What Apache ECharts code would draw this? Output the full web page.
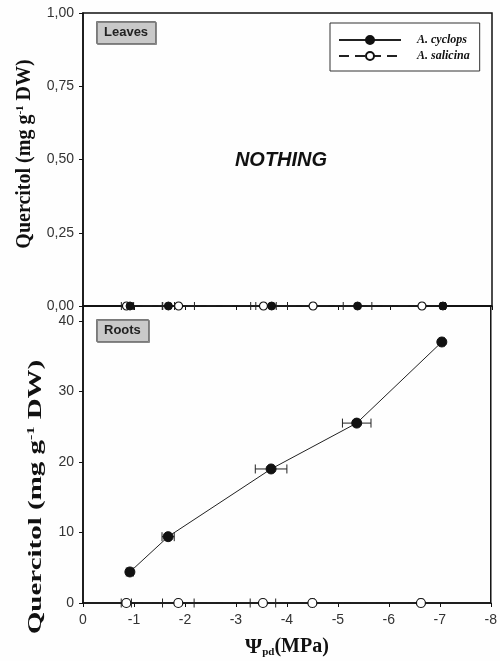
<!DOCTYPE html>
<html>
<head>
<meta charset="utf-8">
<script src="https://cdn.jsdelivr.net/npm/echarts@6/dist/echarts.min.js"></script>
<style>
  html, body { margin: 0; padding: 0; background: #fefefe; }
  #chart { width: 500px; height: 661px; }
</style>
</head>
<body>
<div id="chart"></div>
<script>
// Pre-dawn water potential (MPa) per sampling, with horizontal SE
const psiCyclops = [-0.92, -1.67, -3.69, -5.37, -7.04];
const psiCyclopsErr = [0.07, 0.12, 0.31, 0.28, 0.05];
const psiSalicina = [-0.85, -1.87, -3.53, -4.50, -6.63];
const psiSalicinaErr = [0.10, 0.31, 0.25, 0.04, 0.04];

// Quercitol content (mg g-1 DW)
const leavesCyclops = [0, 0, 0, 0, 0];
const leavesSalicina = [0, 0, 0, 0, 0];
const rootsCyclops = [4.4, 9.4, 19.0, 25.5, 37.0];
const rootsSalicina = [0, 0, 0, 0, 0];

// Axis ticks
const psiTicks = [0, -1, -2, -3, -4, -5, -6, -7, -8];
const leafTicks = [0, 0.25, 0.5, 0.75, 1];
const rootTicks = [0, 10, 20, 30, 40];

const seriesNames = ['A. cyclops', 'A. salicina'];

const INK = '#111';
const LABEL = '#333';
const SANS = '"Liberation Sans", Arial, sans-serif';
const SERIF = '"Liberation Serif", "Times New Roman", serif';

const pairs = (xs, ys) => xs.map((x, i) => [x, ys[i]]);
const withErr = (xs, ys, es) => xs.map((x, i) => [x, ys[i], es[i]]);

// Horizontal error bar with short vertical caps
function errorBar(capHalf) {
  return function (params, api) {
    const x = api.value(0), y = api.value(1), e = api.value(2);
    const a = api.coord([x - e, y]);
    const b = api.coord([x + e, y]);
    const st = { stroke: '#222', lineWidth: 1 };
    return {
      type: 'group',
      children: [
        { type: 'line', shape: { x1: a[0], y1: a[1], x2: b[0], y2: b[1] }, style: st },
        { type: 'line', shape: { x1: a[0], y1: a[1] - capHalf, x2: a[0], y2: a[1] + capHalf }, style: st },
        { type: 'line', shape: { x1: b[0], y1: b[1] - capHalf, x2: b[0], y2: b[1] + capHalf }, style: st }
      ]
    };
  };
}

function xAxisBase(gridIndex, showLabels) {
  return {
    type: 'value', gridIndex, inverse: true,
    min: psiTicks[psiTicks.length - 1], max: psiTicks[0], interval: 1,
    axisLine: { onZero: false, lineStyle: { color: INK, width: 1.5 } },
    axisTick: { show: true, inside: false, length: 4, lineStyle: { color: INK, width: 1 } },
    axisLabel: { show: showLabels, fontSize: 14, color: LABEL, fontFamily: SANS, margin: 10 },
    splitLine: { show: false }
  };
}

function lineSeries(name, xi, data, filled, size, dashed) {
  return {
    name, type: 'line', xAxisIndex: xi, yAxisIndex: xi, data,
    symbol: 'circle', symbolSize: size, z: 4,
    lineStyle: { color: '#222', width: 1, type: dashed ? [10, 6] : 'solid' },
    itemStyle: filled
      ? { color: INK, borderColor: INK, borderWidth: 1 }
      : { color: '#fff', borderColor: INK, borderWidth: 1.2 }
  };
}

function errSeries(xi, data, capHalf) {
  return {
    type: 'custom', xAxisIndex: xi, yAxisIndex: xi, z: 3,
    renderItem: errorBar(capHalf), data, encode: { x: 0, y: 1 },
    silent: true
  };
}

const yTitleRich = {
  t: { fontFamily: SERIF, fontWeight: 'bold', fontSize: 20, fill: INK, lineHeight: 20 },
  s: { fontFamily: SERIF, fontWeight: 'bold', fontSize: 11, fill: INK, lineHeight: 11, verticalAlign: 'top' }
};

const chart = echarts.init(document.getElementById('chart'), null, { renderer: 'canvas' });

chart.setOption({
  animation: false,
  backgroundColor: '#fefefe',
  title: [
    {
      text: 'Leaves', left: 96, top: 21, padding: [5, 8],
      backgroundColor: '#c9c9c9', borderColor: '#7a7a7a', borderWidth: 1,
      shadowColor: 'rgba(0,0,0,0.35)', shadowOffsetX: 1, shadowOffsetY: 1,
      textStyle: { fontSize: 13, fontWeight: 'bold', fontFamily: SANS, color: '#222' }
    },
    {
      text: 'Roots', left: 96, top: 319, padding: [5, 8],
      backgroundColor: '#c9c9c9', borderColor: '#7a7a7a', borderWidth: 1,
      shadowColor: 'rgba(0,0,0,0.35)', shadowOffsetX: 1, shadowOffsetY: 1,
      textStyle: { fontSize: 13, fontWeight: 'bold', fontFamily: SANS, color: '#222' }
    }
  ],
  legend: {
    data: seriesNames, orient: 'vertical', left: 330, top: 23,
    padding: [11, 10, 9, 8], itemGap: 4, itemWidth: 62, itemHeight: 10,
    borderColor: '#333', borderWidth: 1, backgroundColor: '#fff',
    selectedMode: false,
    textStyle: { fontFamily: SERIF, fontStyle: 'italic', fontWeight: 'bold', fontSize: 12, color: INK, padding: [0, 0, 0, 11] }
  },
  grid: [
    { left: 83, top: 13, width: 409, height: 293, show: true, borderColor: INK, borderWidth: 1.5, backgroundColor: 'transparent' },
    { left: 83, top: 306, width: 409, height: 297, show: true, borderColor: INK, borderWidth: 1.5, backgroundColor: 'transparent' }
  ],
  xAxis: [
    xAxisBase(0, false),
    Object.assign(xAxisBase(1, true), {
      name: '{g|Ψ}{s|pd}{p|(MPa)}', nameLocation: 'middle', nameGap: 33,
      nameTextStyle: {
        rich: {
          g: { fontFamily: SERIF, fontWeight: 'bold', fontSize: 22, color: INK, lineHeight: 22 },
          p: { fontFamily: SERIF, fontWeight: 'bold', fontSize: 20, color: INK, lineHeight: 22 },
          s: { fontFamily: SERIF, fontWeight: 'bold', fontSize: 11, color: INK, lineHeight: 13, verticalAlign: 'bottom' }
        }
      }
    })
  ],
  yAxis: [
    {
      type: 'value', gridIndex: 0, min: leafTicks[0], max: leafTicks[leafTicks.length - 1], interval: 0.25,
      axisLine: { show: true, lineStyle: { color: INK, width: 1.5 } },
      axisTick: { show: true, inside: false, length: 4, lineStyle: { color: INK } },
      axisLabel: {
        fontSize: 14, color: LABEL, fontFamily: SANS, margin: 9,
        formatter: v => v.toFixed(2).replace('.', ',')
      },
      splitLine: { show: false }
    },
    {
      type: 'value', gridIndex: 1, min: rootTicks[0], max: 42.1, interval: 10,
      axisLine: { show: true, lineStyle: { color: INK, width: 1.5 } },
      axisTick: { show: true, inside: false, length: 4, lineStyle: { color: INK } },
      axisLabel: {
        fontSize: 14, color: LABEL, fontFamily: SANS, margin: 9,
        formatter: v => (rootTicks.indexOf(v) >= 0 ? String(v) : '')
      },
      splitLine: { show: false }
    }
  ],
  graphic: [
    {
      type: 'text', x: 281, y: 160,
      style: {
        text: 'NOTHING', align: 'center', verticalAlign: 'middle',
        font: 'italic bold 20px "Liberation Sans", Arial, sans-serif', fill: INK
      }
    },
    {
      type: 'text', x: 25, y: 154, rotation: Math.PI / 2,
      style: {
        text: '{t|Quercitol (mg g}{s|-1}{t| DW)}', align: 'center', verticalAlign: 'middle',
        rich: yTitleRich
      }
    },
    {
      type: 'text', x: 36, y: 497, rotation: Math.PI / 2, scaleX: 1.45, scaleY: 0.95,
      style: {
        text: '{t|Quercitol (mg g}{s|-1}{t| DW)}', align: 'center', verticalAlign: 'middle',
        rich: yTitleRich
      }
    }
  ],
  series: [
    errSeries(0, withErr(psiCyclops, leavesCyclops, psiCyclopsErr), 4),
    errSeries(0, withErr(psiSalicina, leavesSalicina, psiSalicinaErr), 4),
    lineSeries(seriesNames[1], 0, pairs(psiSalicina, leavesSalicina), false, 8, true),
    lineSeries(seriesNames[0], 0, pairs(psiCyclops, leavesCyclops), true, 8, false),

    errSeries(1, withErr(psiCyclops, rootsCyclops, psiCyclopsErr), 4.5),
    errSeries(1, withErr(psiSalicina, rootsSalicina, psiSalicinaErr), 4.5),
    lineSeries(seriesNames[1], 1, pairs(psiSalicina, rootsSalicina), false, 9, true),
    lineSeries(seriesNames[0], 1, pairs(psiCyclops, rootsCyclops), true, 10, false)
  ]
});
</script>
</body>
</html>
